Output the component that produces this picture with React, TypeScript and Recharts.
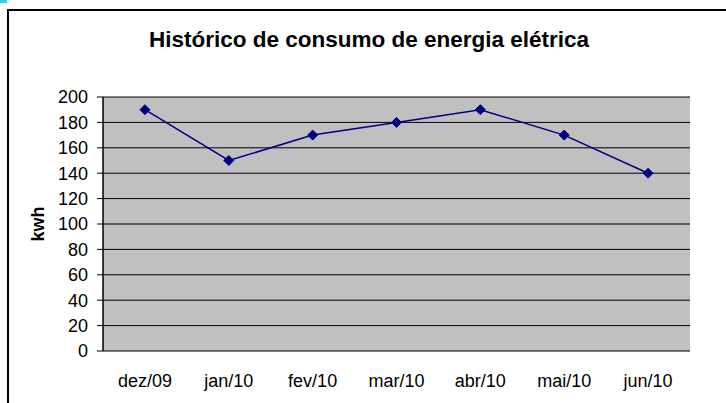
import React from 'react';
import { LineChart, Line, XAxis, YAxis, CartesianGrid } from 'recharts';

const months = ['dez/09', 'jan/10', 'fev/10', 'mar/10', 'abr/10', 'mai/10', 'jun/10'];
const consumo = [190, 150, 170, 180, 190, 170, 140];
const yTicks = [0, 20, 40, 60, 80, 100, 120, 140, 160, 180, 200];
const labelTicks = months.map((_, i) => i + 0.5);
const boundaryTicks = [0, 1, 2, 3, 4, 5, 6, 7];
const title = 'Histórico de consumo de energia elétrica';
const yLabel = 'kwh';

const data = months.map((m, i) => ({ x: i + 0.5, mes: m, kwh: consumo[i] }));

const FONT = '"Liberation Sans", Arial, sans-serif';

const Diamond = (props: any) => {
  const { cx, cy, index } = props;
  if (cx == null || cy == null) return <g key={index} />;
  const r = 5;
  return (
    <polygon
      key={index}
      points={`${cx},${cy - r} ${cx + r},${cy} ${cx},${cy + r} ${cx - r},${cy}`}
      fill="#000080"
      stroke="#000080"
      strokeWidth={1}
    />
  );
};

export default function App() {
  return (
    <div
      style={{
        position: 'absolute',
        left: 0,
        top: 0,
        width: 726,
        height: 403,
        overflow: 'hidden',
        background: '#fff',
        fontFamily: FONT,
      }}
    >
      <div style={{ position: 'absolute', left: 0, top: 0, width: 7, height: 3, background: '#33ccff' }} />
      <div
        style={{
          position: 'absolute',
          left: 7,
          top: 9,
          width: 900,
          height: 600,
          border: '2px solid #000',
          boxSizing: 'border-box',
        }}
      />
      <div style={{ position: 'absolute', left: 0, top: 0 }}>
        <LineChart width={726} height={403} data={data} margin={{ top: 97, right: 36, bottom: 0, left: 0 }}>
          <CartesianGrid xAxisId="lbl" vertical={false} stroke="#000" strokeWidth={1} fill="#C0C0C0" fillOpacity={1} />
          <XAxis
            xAxisId="b"
            type="number"
            dataKey="x"
            domain={[0, 7]}
            ticks={boundaryTicks}
            interval={0}
            height={0}
            tick={<g />}
            tickSize={6}
            tickLine={{ stroke: '#000' }}
            axisLine={{ stroke: '#000', strokeWidth: 1.5 }}
          />
          <XAxis
            xAxisId="lbl"
            type="number"
            dataKey="x"
            domain={[0, 7]}
            ticks={labelTicks}
            interval={0}
            height={52}
            tickFormatter={(v: number) => months[Math.floor(v)]}
            axisLine={false}
            tickLine={false}
            tickSize={0}
            tickMargin={23}
            tick={{ fill: '#000', fontSize: 18, fontFamily: FONT }}
          />
          <XAxis
            xAxisId="t"
            orientation="top"
            type="number"
            dataKey="x"
            domain={[0, 7]}
            height={0}
            tick={false}
            tickLine={false}
            axisLine={{ stroke: '#808080', strokeWidth: 1.5 }}
          />
          <YAxis
            type="number"
            domain={[0, 200]}
            ticks={yTicks}
            interval={0}
            width={103}
            tickSize={6}
            tickMargin={9}
            tickLine={{ stroke: '#000' }}
            axisLine={{ stroke: '#000', strokeWidth: 1.5 }}
            tick={{ fill: '#000', fontSize: 18, fontFamily: FONT }}
            label={{
              value: yLabel,
              angle: -90,
              position: 'center',
              dx: -14,
              style: { fill: '#000', fontSize: 18, fontWeight: 'bold', fontFamily: FONT },
            }}
          />
          <YAxis
            yAxisId="r"
            orientation="right"
            type="number"
            domain={[0, 200]}
            width={0}
            tick={false}
            tickLine={false}
            axisLine={{ stroke: '#808080', strokeWidth: 1.5 }}
          />
          <Line
            xAxisId="lbl"
            type="linear"
            dataKey="kwh"
            stroke="#000080"
            strokeWidth={1.5}
            dot={<Diamond />}
            activeDot={false}
            isAnimationActive={false}
          />
        </LineChart>
      </div>
      <div
        style={{
          position: 'absolute',
          left: 69,
          top: 29,
          width: 600,
          textAlign: 'center',
          fontSize: 22.5,
          lineHeight: '22px',
          fontWeight: 'bold',
          color: '#000',
          fontFamily: FONT,
          whiteSpace: 'nowrap',
        }}
      >
        {title}
      </div>
    </div>
  );
}
